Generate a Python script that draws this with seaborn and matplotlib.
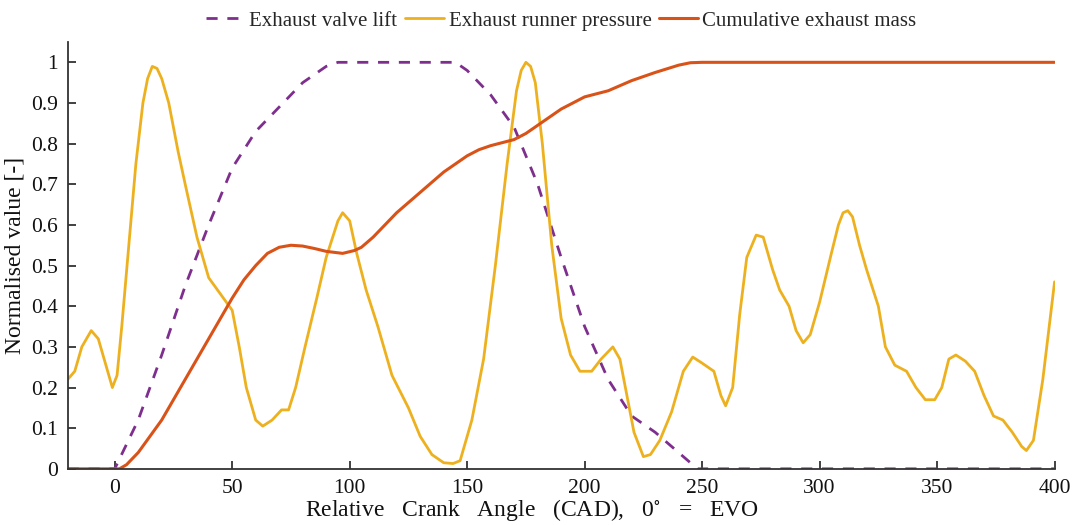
import numpy as np
import pandas as pd
import matplotlib
matplotlib.use("Agg")
import matplotlib.pyplot as plt
import seaborn as sns

# Exhaust valve lift (normalised)
lift_x = [-20, 0, 10, 20, 30, 40, 50, 60, 70, 80, 90, 95, 145, 150, 160, 170, 180, 190,
          200, 210, 220, 230, 240, 248, 400]
lift_y = [0, 0, 0.12, 0.28, 0.45, 0.60, 0.74, 0.83, 0.89, 0.95, 0.99, 1.0, 1.0, 0.98, 0.92,
          0.84, 0.70, 0.52, 0.35, 0.22, 0.13, 0.09, 0.04, 0.0, 0.0]

# Cumulative exhaust mass (normalised)
mass_x = [-20, 2, 5, 10, 15, 20, 25, 30, 35, 40, 45, 50, 55, 60, 65, 70, 75, 80, 85, 90, 97,
          102, 105, 110, 115, 120, 130, 140, 150, 155, 160, 170, 175, 180, 190, 200, 210, 220,
          230, 240, 245, 250, 400]
mass_y = [0, 0, 0.01, 0.04, 0.08, 0.12, 0.17, 0.22, 0.27, 0.32, 0.37, 0.42, 0.465, 0.50,
          0.53, 0.545, 0.55, 0.548, 0.542, 0.535, 0.53, 0.537, 0.545, 0.57, 0.60, 0.63, 0.68,
          0.73, 0.77, 0.785, 0.795, 0.81, 0.825, 0.845, 0.885, 0.915, 0.93, 0.955, 0.975,
          0.993, 0.999, 1.0, 1.0]

# Exhaust runner pressure (normalised)
pres_x = [-20, -17, -14, -10, -7, -4, -1, 1, 3, 6, 9, 12, 14, 16, 18, 20, 23, 27, 30, 35, 40,
          45, 50, 53, 56, 60, 63, 67, 71, 74, 77, 81, 86, 90, 95, 97, 100, 103, 107, 112, 118,
          125, 130, 135, 140, 144, 147, 152, 157, 162, 167, 171, 173, 175, 177, 179, 182, 186,
          190, 194, 198, 203, 207, 212, 215, 218, 221, 225, 228, 232, 237, 242, 246, 250, 255,
          258, 260, 263, 266, 269, 273, 276, 280, 283, 287, 290, 293, 296, 300, 305, 308, 310,
          312, 314, 317, 320, 325, 328, 332, 337, 341, 345, 349, 352, 355, 358, 362, 366, 370,
          374, 378, 382, 386, 388, 391, 395, 400]
pres_y = [0.22, 0.24, 0.30, 0.34, 0.32, 0.26, 0.20, 0.23, 0.35, 0.55, 0.75, 0.90, 0.96, 0.99,
          0.985, 0.96, 0.90, 0.78, 0.70, 0.57, 0.47, 0.43, 0.39, 0.30, 0.20, 0.12, 0.105, 0.12,
          0.145, 0.145, 0.20, 0.30, 0.42, 0.52, 0.61, 0.63, 0.61, 0.53, 0.44, 0.35, 0.23, 0.15,
          0.08, 0.035, 0.015, 0.013, 0.02, 0.12, 0.27, 0.50, 0.75, 0.93, 0.98, 1.0, 0.99, 0.95,
          0.80, 0.55, 0.37, 0.28, 0.24, 0.24, 0.27, 0.30, 0.27, 0.18, 0.09, 0.03, 0.035, 0.07,
          0.14, 0.24, 0.275, 0.26, 0.24, 0.18, 0.155, 0.20, 0.38, 0.52, 0.575, 0.57, 0.49,
          0.44, 0.40, 0.34, 0.31, 0.33, 0.41, 0.53, 0.60, 0.63, 0.635, 0.62, 0.55, 0.49, 0.40,
          0.30, 0.255, 0.24, 0.20, 0.17, 0.17, 0.20, 0.27, 0.28, 0.265, 0.24, 0.18, 0.13, 0.12,
          0.09, 0.055, 0.045, 0.07, 0.22, 0.46]

x_ticks = [0, 50, 100, 150, 200, 250, 300, 350, 400]
y_ticks = [0, 0.1, 0.2, 0.3, 0.4, 0.5, 0.6, 0.7, 0.8, 0.9, 1]
y_tick_labels = ["0", "0.1", "0.2", "0.3", "0.4", "0.5", "0.6", "0.7", "0.8", "0.9", "1"]

sns.set_theme(style="ticks")
plt.rcParams["font.family"] = ["Liberation Serif", "DejaVu Serif"]
plt.rcParams["mathtext.fontset"] = "stix"

fig = plt.figure(figsize=(10.75, 5.25), dpi=100)
ax = fig.add_axes([0.063, 0.107, 0.918, 0.813])

purple = "#7E2F8E"
gold = "#EDB120"
red = "#D95319"

sns.lineplot(x=lift_x, y=lift_y, ax=ax, color=purple, lw=2, linestyle=(0, (4, 3.5)),
             sort=False, estimator=None, label="Exhaust valve lift")
sns.lineplot(x=pres_x, y=pres_y, ax=ax, color=gold, lw=2, sort=False, estimator=None,
             label="Exhaust runner pressure")
sns.lineplot(x=mass_x, y=mass_y, ax=ax, color=red, lw=2.2, sort=False, estimator=None,
             label="Cumulative exhaust mass")

ax.set_xlim(-20, 400)
ax.set_ylim(0, 1.05)
ax.set_xticks(x_ticks)
ax.set_xticklabels([str(t) for t in x_ticks])
ax.set_yticks(y_ticks)
ax.set_yticklabels(y_tick_labels)
for s in ["top", "right"]:
    ax.spines[s].set_visible(False)
for s in ["left", "bottom"]:
    ax.spines[s].set_linewidth(1.3)
    ax.spines[s].set_color("#333333")
ax.tick_params(direction="in", length=6, width=1.3, color="#333333", labelsize=15.5,
               labelcolor="#111111", pad=7)

ax.set_xlabel(r"Relative   Crank   Angle   (CAD),   0$^{\circ}$   =   EVO", fontsize=17,
              labelpad=2, color="#111111")
ax.xaxis.set_label_coords(0.47, -0.066)
ax.set_ylabel("Normalised value [-]", fontsize=17, labelpad=4, color="#111111")

ax.legend(loc="lower center", bbox_to_anchor=(0.5, 1.0), ncol=3, frameon=False,
          fontsize=15, handlelength=1.9, handletextpad=0.2, columnspacing=0.35,
          borderaxespad=0.15)

fig.savefig("out.png", dpi=100)
